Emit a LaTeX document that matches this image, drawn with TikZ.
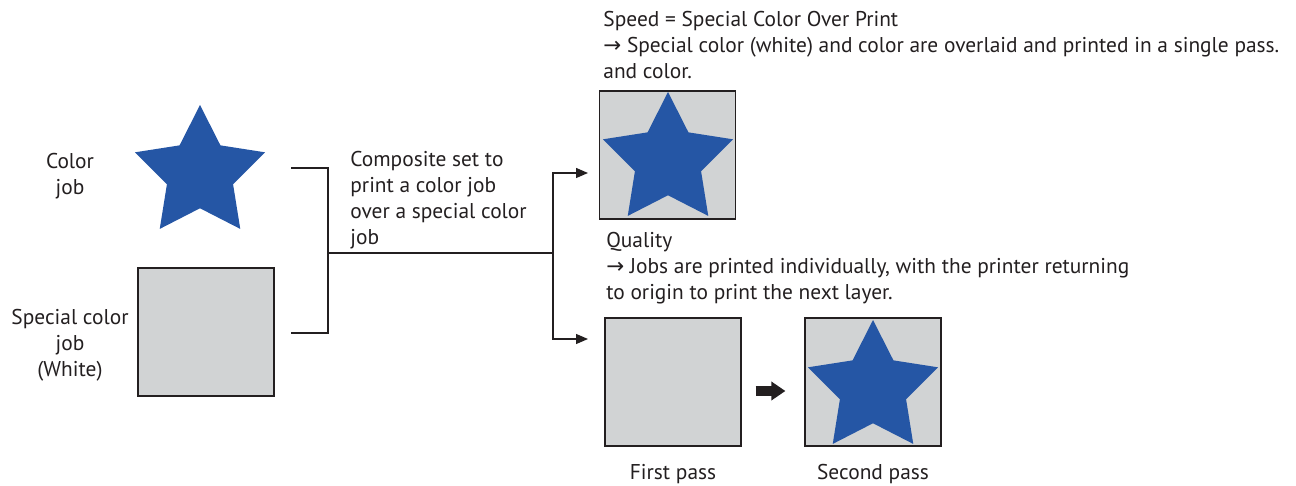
\documentclass[tikz,border=0pt]{standalone}
\usepackage{fontspec}
\setmainfont{PT Sans}
\newfontfamily\arrowfont{DejaVu Sans}
\usetikzlibrary{shapes.geometric, arrows.meta, positioning}
\definecolor{jobBlue}{HTML}{2556A5}
\definecolor{whiteInk}{HTML}{D1D3D4}
\definecolor{lineDark}{HTML}{231F20}
\newcommand{\rarr}{{\arrowfont →}}

\begin{document}
\begin{tikzpicture}[
  x=0.5pt, y=-0.5pt,
  font=\fontsize{10.7}{13}\selectfont,
  text=lineDark,
  job/.style={star, star points=5, star point ratio=1.97, fill=jobBlue, minimum size=68.5pt, inner sep=0pt},
  plate/.style={rectangle, draw=lineDark, line width=0.6pt, fill=whiteInk, minimum width=68pt, minimum height=64pt, inner sep=0pt},
  txt/.style={align=left, inner sep=0pt},
  lbl/.style={align=center, inner sep=0pt},
  link/.style={draw=lineDark, line width=0.65pt},
  arrow/.style={link, -{Triangle[length=6pt, width=5pt]}},
  bigarrow/.style={draw=lineDark, line width=5pt, -{Triangle[length=7pt, width=9pt]}},
]
\useasboundingbox (0,0) rectangle (1296,486);

% input jobs
\node[job] (colorjob) at (200,173.5) {};
\node[plate] (whitejob) at (206,332) {};
\node[lbl] (colorlbl) at (70,176) {Color\\job};
\node[lbl] (whitelbl) at (70,345) {Special color\\job\\(White)};
\node[txt, anchor=north west] (composite) at (350,151) {Composite set to\\print a color job\\over a special color\\job};

% speed
\node[txt, anchor=north west] (speedtxt) at (603,11) {Speed = Special Color Over Print\\\rarr{} Special color (white) and color are overlaid and printed in a single pass.\\and color.};
\node[plate] (speedbox) at (667.5,155) {};
\node[job] (speedstar) at (668,160.5) {};

% quality
\node[txt, below right=6pt and 3.5pt of speedbox.south west] (qualitytxt) {Quality\\\rarr{} Jobs are printed individually, with the printer returning\\to origin to print the next layer.};
\node[plate] (firstbox) at (673,382) {};
\node[plate] (secondbox) at (873,382) {};
\node[job] (secondstar) at (873,388.5) {};
\node[lbl, below=8.5pt of firstbox] (firstlbl) {First pass};
\node[lbl, below=8.5pt of secondbox] (secondlbl) {Second pass};

\coordinate (colorout) at (291,168);
\coordinate (whiteout) at (291,333);
\coordinate (merge) at (328,253);
\coordinate (fork) at (553,253);
\coordinate (tospeed) at (588,173);
\coordinate (toquality) at (588,339);

\draw[link] (colorout) -| (merge) |- (whiteout);
\draw[link] (merge) -- (fork);
\draw[arrow] (fork) |- (tospeed);
\draw[arrow] (fork) |- (toquality);
\draw[bigarrow] ([shift={(14,9)}]firstbox.east) -- ([shift={(-19,9)}]secondbox.west);

\end{tikzpicture}
\end{document}
